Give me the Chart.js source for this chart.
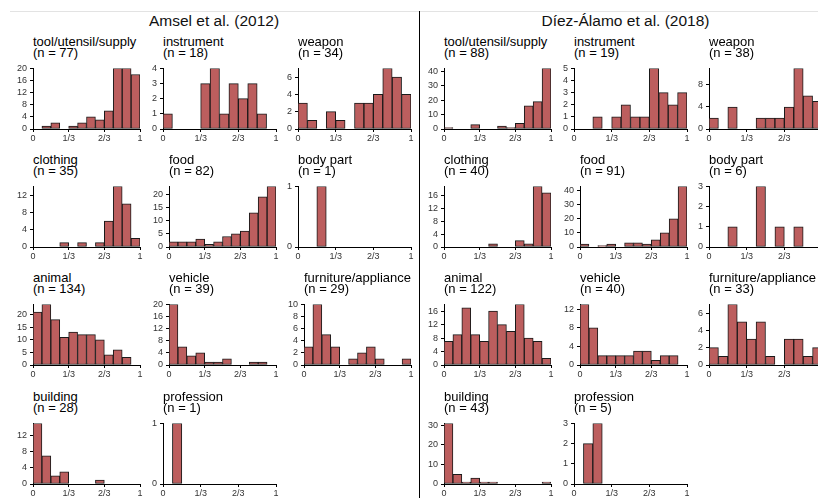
<!DOCTYPE html>
<html><head><meta charset="utf-8">
<script src="https://cdn.jsdelivr.net/npm/chart.js@4.4.1/dist/chart.umd.min.js"></script>
<style>
html,body{margin:0;padding:0;background:#fff;}
body{width:818px;height:498px;position:relative;overflow:hidden;font-family:"Liberation Sans",Arial,sans-serif;}
.panel-title{position:absolute;font-size:13px;line-height:11.7px;white-space:nowrap;color:#000;}
.main-title{position:absolute;font-size:15.5px;white-space:nowrap;transform:translate(-50%,-50%);color:#111;}
.line{position:absolute;}
canvas{position:absolute;}
</style></head><body>
<script>
// 12 histogram bins of width 1/12 on [0, 1]
const bins = ['0–1/12','1/12–2/12','2/12–3/12','3/12–4/12','4/12–5/12','5/12–6/12',
              '6/12–7/12','7/12–8/12','8/12–9/12','9/12–10/12','10/12–11/12','11/12–1'];
const xTickValues = [0, 1/3, 2/3, 1];
const xTickLabels = ['0', '1/3', '2/3', '1'];

// Amsel et al. (2012)
const amselTool       = [0,1,2,0,1,2,4,3,6,20,20,18];
const amselInstrument = [1,0,0,0,3,4,1,3,2,3,1,0];
const amselWeapon     = [3,1,0,2,1,0,3,3,4,7,6,4];
const amselClothing   = [0,0,0,1,0,1,0,1,6,14,10,2];
const amselFood       = [2,2,2,3,1,2,4,5,6,13,19,23];
const amselBodyPart   = [0,0,1,0,0,0,0,0,0,0,0,0];
const amselAnimal     = [21,24,18,11,13,12,12,10,4,6,3,0];
const amselVehicle    = [20,6,3,4,1,1,2,0,0,1,1,0];
const amselFurniture  = [3,10,5,3,0,1,2,3,1,0,0,1];
const amselBuilding   = [15,7,2,3,0,0,0,1,0,0,0,0];
const amselProfession = [0,1,0,0,0,0,0,0,0,0,0,0];

const amselToolTicks       = [0,4,8,12,16,20];
const amselInstrumentTicks = [0,1,2,3,4];
const amselWeaponTicks     = [0,2,4,6];
const amselClothingTicks   = [0,4,8,12];
const amselFoodTicks       = [0,5,10,15,20];
const amselBodyPartTicks   = [0,1];
const amselAnimalTicks     = [0,5,10,15,20];
const amselVehicleTicks    = [0,4,8,12,16,20];
const amselFurnitureTicks  = [0,2,4,6,8,10];
const amselBuildingTicks   = [0,4,8,12];
const amselProfessionTicks = [0,1];

// Díez-Álamo et al. (2018)
const diezTool       = [1,0,0,3,0,0,2,1,4,16,19,42];
const diezInstrument = [0,0,1,0,1,2,1,1,5,3,2,3];
const diezWeapon     = [2,0,4,0,0,2,2,2,4,11,6,5];
const diezClothing   = [0,0,0,0,0,1,0,0,2,1,19,17];
const diezFood       = [2,0,1,2,0,3,3,2,5,10,20,43];
const diezBodyPart   = [0,0,1,0,0,3,0,1,0,1,0,0];
const diezAnimal     = [7,9,17,9,7,16,12,10,18,8,7,2];
const diezVehicle    = [13,8,2,2,2,2,3,3,1,2,2,0];
const diezFurniture  = [2,1,7,5,3,5,1,0,3,3,1,2];
const diezBuilding   = [31,5,1,3,1,1,0,0,0,0,0,1];
const diezProfession = [0,2,3,0,0,0,0,0,0,0,0,0];

const diezToolTicks       = [0,10,20,30,40];
const diezInstrumentTicks = [0,1,2,3,4,5];
const diezWeaponTicks     = [0,4,8];
const diezClothingTicks   = [0,4,8,12,16];
const diezFoodTicks       = [0,10,20,30,40];
const diezBodyPartTicks   = [0,1,2,3];
const diezAnimalTicks     = [0,4,8,12,16];
const diezVehicleTicks    = [0,4,8,12];
const diezFurnitureTicks  = [0,2,4,6];
const diezBuildingTicks   = [0,10,20,30];
const diezProfessionTicks = [0,1,2,3];

const studyTitles = ['Amsel et al. (2012)', 'Díez-Álamo et al. (2018)'];

const panels = [
  [0,'tool/utensil/supply',amselTool,amselToolTicks],
  [0,'instrument',amselInstrument,amselInstrumentTicks],
  [0,'weapon',amselWeapon,amselWeaponTicks],
  [0,'clothing',amselClothing,amselClothingTicks],
  [0,'food',amselFood,amselFoodTicks],
  [0,'body part',amselBodyPart,amselBodyPartTicks],
  [0,'animal',amselAnimal,amselAnimalTicks],
  [0,'vehicle',amselVehicle,amselVehicleTicks],
  [0,'furniture/appliance',amselFurniture,amselFurnitureTicks],
  [0,'building',amselBuilding,amselBuildingTicks],
  [0,'profession',amselProfession,amselProfessionTicks],
  [1,'tool/utensil/supply',diezTool,diezToolTicks],
  [1,'instrument',diezInstrument,diezInstrumentTicks],
  [1,'weapon',diezWeapon,diezWeaponTicks],
  [1,'clothing',diezClothing,diezClothingTicks],
  [1,'food',diezFood,diezFoodTicks],
  [1,'body part',diezBodyPart,diezBodyPartTicks],
  [1,'animal',diezAnimal,diezAnimalTicks],
  [1,'vehicle',diezVehicle,diezVehicleTicks],
  [1,'furniture/appliance',diezFurniture,diezFurnitureTicks],
  [1,'building',diezBuilding,diezBuildingTicks],
  [1,'profession',diezProfession,diezProfessionTicks]
];

// ---------- layout & style ----------
const FONT = '"Liberation Sans", Arial, sans-serif';
const FILL = '#bc5e5e';
const EDGE = '#1a1a1a';
const TICK = '#333333';
const HALF_SHIFT = 411;
const colRight = [140, 276, 411];
const rowTop = [66, 184, 302, 421];
const PH = 63;
const padL = 30, padT = 6, padR = 8, xH = 16;

function addDiv(cls, text, css) {
  const d = document.createElement('div');
  d.className = cls;
  if (text !== null) d.innerHTML = text;
  Object.assign(d.style, css);
  document.body.appendChild(d);
  return d;
}

addDiv('line', null, {left:'10px', top:'11px', width:'808px', height:'1px', background:'#e3e3e3'});
addDiv('line', null, {left:'419px', top:'11px', width:'1px', height:'487px', background:'#000'});
addDiv('main-title', studyTitles[0], {left:'214px', top:'21px'});
addDiv('main-title', studyTitles[1], {left:'625.5px', top:'21px'});

const counter = [0, 0];
panels.forEach(([half, title, counts, yTicks]) => {
  const idx = counter[half]++;
  const row = Math.floor(idx / 3), col = idx % 3;
  const maxTick = Math.max(...yTicks);
  const R = colRight[col] + half * HALF_SHIFT;
  const L = R - (maxTick >= 10 ? 107.5 : 113.3);
  const li = Math.round(L), ri = Math.round(R), ti = rowTop[row];
  const n = counts.reduce((a, b) => a + b, 0);

  addDiv('panel-title', title + '<br>(n = ' + n + ')', {left: li + 'px', top: (ti - 30.5) + 'px'});

  const cv = document.createElement('canvas');
  cv.width = ri - li + padL + padR;
  cv.height = PH + padT + xH;
  cv.style.left = (li - padL) + 'px';
  cv.style.top = (ti - padT) + 'px';
  cv.style.width = cv.width + 'px';
  cv.style.height = cv.height + 'px';
  document.body.appendChild(cv);

  const gridOpts = {drawOnChartArea:false, drawTicks:true, tickLength:3, tickColor:'#000', tickWidth:1, offset:false};
  const borderOpts = {display:true, color:'#000', width:1};
  new Chart(cv, {
    type: 'bar',
    data: {
      labels: bins,
      datasets: [{
        data: counts, backgroundColor: FILL, borderColor: EDGE, borderWidth: 1,
        borderSkipped: false, barPercentage: 1, categoryPercentage: 1,
        xAxisID: 'x', yAxisID: 'y'
      }]
    },
    options: {
      responsive: false, animation: false, devicePixelRatio: 1,
      layout: {padding: {left: 0, top: padT, right: padR, bottom: 0}},
      plugins: {legend: {display: false}, tooltip: {enabled: false}},
      scales: {
        x: {type: 'category', display: false, offset: true, grid: {display: false}},
        x2: {
          type: 'linear', position: 'bottom', min: 0, max: 1, offset: false,
          afterBuildTicks: s => { s.ticks = xTickValues.map(v => ({value: v})); },
          afterFit: s => { s.height = xH; },
          ticks: {autoSkip: false, maxRotation: 0, padding: 1, font: {size: 9, family: FONT}, color: TICK,
                  callback: (v, i) => xTickLabels[i]},
          grid: gridOpts, border: borderOpts
        },
        y: {
          type: 'linear', min: 0, max: Math.max(...counts), offset: false,
          afterBuildTicks: s => { s.ticks = yTicks.map(v => ({value: v})); },
          afterFit: s => { s.width = padL; },
          ticks: {autoSkip: false, padding: 3, font: {size: 9, family: FONT}, color: TICK,
                  callback: v => String(v)},
          grid: gridOpts, border: borderOpts
        }
      }
    }
  });
});
</script>
</body></html>
